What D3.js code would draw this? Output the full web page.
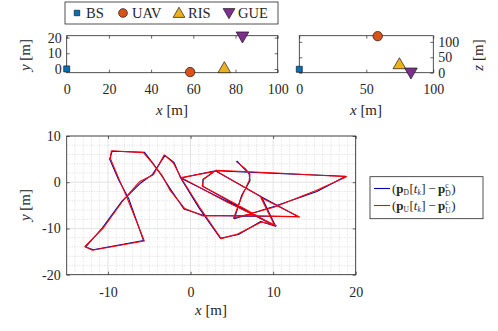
<!DOCTYPE html>
<html>
<head>
<meta charset="utf-8">
<script src="https://cdn.jsdelivr.net/npm/d3@7"></script>
<style>
  body { margin: 0; background: #fff; }
  text { font-family: "Liberation Serif", "DejaVu Serif", serif; fill: #262626; }
</style>
</head>
<body>
<div id="chart"></div>
<script>
// ---------- data ----------
// node positions (top panels)
const nodeNames = ['BS', 'UAV', 'RIS', 'GUE'];
const nodeX = [0, 58.5, 74.7, 83.3];
const nodeY = [0, -2.0, 0.6, 20.6];
const nodeZ = [11, 118.5, 28, 0];
const nodeColors = ['#0072BD', '#D95319', '#EDB120', '#7E2F8E'];
const nodeShapes = ['square', 'circle', 'triangle', 'invTriangle'];

// tick labels
const topXTicksL = [0, 20, 40, 60, 80, 100];
const topYTicksL = [0, 10, 20];
const topXTicksR = [0, 50, 100];
const topZTicksR = [0, 50, 100];
const mainXTicks = [-10, 0, 10, 20];
const mainYTicks = [-20, -10, 0, 10];

// trajectory of p_D[t_k] - p_D^c (blue)
const trajXD = [5.6, 6.5, 7.1, 7.2, 6.2, 5.3, 10.0, 15.3, 18.8, 10.5, 3.0, 1.5, 1.5, 6.0, 10.3, 8.6, 13.0, 6.0, 1.6, -0.8, -2.4, -3.6, -4.6, -5.6, -9.5, -9.8, -8.7, -7.5, -5.7, -11.8, -12.7, -10.7, -8.3, -6.0, -4.6, -3.1, -2.0, -1.2, 1.0, 3.6, 5.8, 8.5, 10.3, 4.5, -1.2, 3.0, 8.6];
const trajYD = [4.6, 2.9, 1.8, 0.3, -2.8, -7.9, -5.3, -2.0, 1.3, 1.9, 2.5, 0.6, -0.9, -5.4, -9.5, -3.2, -7.4, -7.3, -7.2, -5.8, -1.6, 1.7, 4.2, 6.5, 6.7, 5.0, 0.5, -3.5, -12.6, -14.6, -14.0, -9.9, -4.1, -0.1, 1.7, 5.8, 4.3, 0.9, -5.5, -12.1, -11.3, -8.5, -9.5, -4.2, 0.9, 2.5, -3.2];
// trajectory of p_U[t_k] - p_U^c (red)
const trajXU = [5.5, 6.6, 7.2, 7.1, 6.3, 5.2, 10.1, 15.2, 18.9, 10.4, 3.1, 1.6, 1.4, 6.1, 10.2, 8.5, 13.2, 6.1, 1.5, -0.7, -2.5, -3.5, -4.7, -5.7, -9.6, -9.7, -8.6, -7.7, -5.6, -11.9, -12.8, -10.6, -8.2, -6.2, -4.5, -3.2, -2.1, -1.1, 1.1, 3.7, 5.7, 8.6, 10.4, 4.4, -1.1, 3.1, 8.5];
const trajYU = [4.5, 3.0, 1.7, 0.4, -2.7, -7.8, -5.4, -1.8, 1.2, 2.0, 2.6, 0.7, -0.8, -5.3, -9.4, -3.3, -7.5, -7.2, -7.3, -5.7, -1.7, 1.6, 4.3, 6.4, 6.8, 5.1, 0.4, -3.3, -12.7, -14.7, -13.9, -10.0, -4.0, 0.1, 1.6, 5.9, 4.2, 0.8, -5.4, -12.2, -11.2, -8.6, -9.4, -4.3, 1.0, 2.4, -3.1];

// ---------- canvas ----------
const W = 498, H = 331;
const FONT = '"Liberation Serif", "DejaVu Serif", serif';
const svg = d3.select('#chart').append('svg')
  .attr('width', W).attr('height', H)
  .attr('font-family', FONT);

const AXC = '#262626';

// draws boxed axes with inside ticks on all sides
const drawBox = (g, x, y, xt, yt, opts) => {
  const [x0, x1] = x.range();
  const [y0, y1] = y.range(); // y0 = bottom
  const fs = opts.fs || 14;
  const tl = opts.tick || 3;
  // bottom ticks + labels
  g.append('g').attr('transform', `translate(0,${y0})`)
    .call(d3.axisBottom(x).tickValues(xt).tickSize(-tl).tickPadding(opts.xpad).tickFormat(d => String(d)))
    .call(a => a.select('.domain').remove());
  // top ticks
  g.append('g').attr('transform', `translate(0,${y1})`)
    .call(d3.axisTop(x).tickValues(xt).tickSize(-tl).tickFormat(''))
    .call(a => a.select('.domain').remove());
  // left / right ticks
  const yLeft = d3.axisLeft(y).tickValues(yt).tickSize(-tl).tickPadding(opts.ypad).tickFormat(d => String(d));
  const yRight = d3.axisRight(y).tickValues(yt).tickSize(-tl).tickPadding(opts.ypad).tickFormat(d => String(d));
  g.append('g').attr('transform', `translate(${x0},0)`)
    .call(opts.yRightLabels ? yLeft.tickFormat('') : yLeft)
    .call(a => a.select('.domain').remove());
  g.append('g').attr('transform', `translate(${x1},0)`)
    .call(opts.yRightLabels ? yRight : yRight.tickFormat(''))
    .call(a => a.select('.domain').remove());
  g.selectAll('g').attr('font-family', FONT);
  g.selectAll('.tick line').attr('stroke', AXC).attr('stroke-width', 0.7);
  g.selectAll('.tick text').attr('font-size', fs).attr('fill', AXC).attr('font-family', FONT);
  g.append('rect').attr('x', x0).attr('y', y1).attr('width', x1 - x0).attr('height', y0 - y1)
    .attr('fill', 'none').attr('stroke', AXC).attr('stroke-width', 0.8);
};

// axis label "v [m]" with italic variable
const axisLabel = (g, x, y, v, rot) => {
  const t = g.append('text').attr('text-anchor', 'middle').attr('font-size', 15)
    .attr('font-family', FONT)
    .attr('transform', `translate(${x},${y}) rotate(${rot || 0})`);
  t.append('tspan').attr('font-style', 'italic').text(v);
  t.append('tspan').text(' [m]');
};

// marker symbols
const symbolFor = (shape, size) => {
  const m = {square: d3.symbolSquare, circle: d3.symbolCircle, triangle: d3.symbolTriangle, invTriangle: d3.symbolTriangle};
  return d3.symbol().type(m[shape]).size(size)();
};
const drawMarker = (g, shape, cx, cy, size, color) => {
  g.append('path')
    .attr('d', symbolFor(shape, size))
    .attr('transform', `translate(${cx},${cy})` + (shape === 'invTriangle' ? ' rotate(180)' : '') + (shape.indexOf('riangle') >= 0 ? ' translate(0,1)' : ''))
    .attr('fill', color).attr('stroke', '#1a1a1a').attr('stroke-width', 0.7);
};

// ---------- top-left panel: x-y ----------
const xTL = d3.scaleLinear().domain([0, 100]).range([66.7, 277.7]);
const yTL = d3.scaleLinear().domain([-2.4, 21.2]).range([72.7, 35.7]);
const gTL = svg.append('g');
drawBox(gTL, xTL, yTL, topXTicksL, topYTicksL, {xpad: 11, ypad: 5});
nodeNames.forEach((n, i) => drawMarker(gTL, nodeShapes[i], xTL(nodeX[i]), yTL(nodeY[i]), nodeShapes[i] === 'square' ? 36 : 70, nodeColors[i]));
axisLabel(svg, 172, 115, 'x');
axisLabel(svg, 30, 55, 'y', -90);

// ---------- top-right panel: x-z ----------
const xTR = d3.scaleLinear().domain([0, 100]).range([299.3, 433.3]);
const zTR = d3.scaleLinear().domain([0, 120]).range([72.7, 35.7]);
const gTR = svg.append('g');
drawBox(gTR, xTR, zTR, topXTicksR, topZTicksR, {xpad: 11, ypad: 5, yRightLabels: true});
nodeNames.forEach((n, i) => drawMarker(gTR, nodeShapes[i], xTR(nodeX[i]), zTR(nodeZ[i]), nodeShapes[i] === 'square' ? 36 : 70, nodeColors[i]));
axisLabel(svg, 366, 115, 'x');
axisLabel(svg, 483, 55, 'z', -90);

// ---------- top legend ----------
const lg = svg.append('g');
lg.append('rect').attr('x', 65).attr('y', 2).attr('width', 213).attr('height', 22)
  .attr('fill', '#fff').attr('stroke', AXC).attr('stroke-width', 0.8);
const legX = [77, 123, 179, 229];
nodeNames.forEach((n, i) => {
  drawMarker(lg, nodeShapes[i], legX[i], 13, nodeShapes[i] === 'square' ? 30 : 60, nodeColors[i]);
  lg.append('text').attr('x', legX[i] + 9).attr('y', 18).attr('font-size', 14.5)
    .attr('font-family', FONT).text(n);
});

// ---------- main panel: trajectories ----------
const xM = d3.scaleLinear().domain([-15, 20]).range([66.7, 355.7]);
const yM = d3.scaleLinear().domain([-20, 10]).range([274.7, 136]);
const gM = svg.append('g');
// minor grid
const minorX = d3.range(-15, 20.01, 1).filter(v => v % 10 !== 0);
const minorY = d3.range(-20, 10.01, 2).filter(v => v % 10 !== 0);
gM.append('g').selectAll('line').data(minorX).join('line')
  .attr('x1', d => xM(d)).attr('x2', d => xM(d)).attr('y1', yM(-20)).attr('y2', yM(10))
  .attr('stroke', '#c8c8c8').attr('stroke-width', 0.6).attr('stroke-dasharray', '1,1.5');
gM.append('g').selectAll('line').data(minorY).join('line')
  .attr('y1', d => yM(d)).attr('y2', d => yM(d)).attr('x1', xM(-15)).attr('x2', xM(20))
  .attr('stroke', '#c8c8c8').attr('stroke-width', 0.6).attr('stroke-dasharray', '1,1.5');
// major grid
gM.append('g').selectAll('line').data(mainXTicks).join('line')
  .attr('x1', d => xM(d)).attr('x2', d => xM(d)).attr('y1', yM(-20)).attr('y2', yM(10))
  .attr('stroke', '#e3e3e3').attr('stroke-width', 1);
gM.append('g').selectAll('line').data(mainYTicks).join('line')
  .attr('y1', d => yM(d)).attr('y2', d => yM(d)).attr('x1', xM(-15)).attr('x2', xM(20))
  .attr('stroke', '#e3e3e3').attr('stroke-width', 1);

const line = d3.line().x(d => xM(d[0])).y(d => yM(d[1]));
gM.append('path').attr('d', line(d3.zip(trajXD, trajYD)))
  .attr('fill', 'none').attr('stroke', '#0000a8').attr('stroke-width', 1.1).attr('stroke-linejoin', 'round');
gM.append('path').attr('d', line(d3.zip(trajXU, trajYU)))
  .attr('fill', 'none').attr('stroke', '#ff0000').attr('stroke-width', 1.1).attr('stroke-linejoin', 'round');

drawBox(gM, xM, yM, mainXTicks, mainYTicks, {xpad: 12, ypad: 6});
axisLabel(svg, 211, 315, 'x');
axisLabel(svg, 30, 205, 'y', -90);

// ---------- main legend ----------
const ml = svg.append('g');
ml.append('rect').attr('x', 370).attr('y', 176.7).attr('width', 113).attr('height', 42)
  .attr('fill', '#fff').attr('stroke', AXC).attr('stroke-width', 0.8);
const legendEntries = [['D', '#0000a8', 188.5], ['U', '#ff0000', 205.5]];
// write a math-like label piece by piece
const mathLabel = (g, x0, base, s) => {
  const fs = 13, small = 7.5;
  let x = x0;
  const put = (txt, o) => {
    const t = g.append('text').attr('x', x).attr('y', base + (o.dy || 0))
      .attr('font-size', o.small ? small : fs).attr('font-family', FONT)
      .attr('font-weight', o.bold ? 'bold' : null)
      .attr('font-style', o.italic ? 'italic' : null)
      .text(txt);
    return t.node().getComputedTextLength();
  };
  x += put('(', {});
  x += put('p', {bold: true});
  x += put(s, {small: true, dy: 2.5}) + 0.5;
  x += put('[', {});
  x += put('t', {italic: true});
  x += put('k', {italic: true, small: true, dy: 2.5}) + 0.5;
  x += put(']', {}) + 2.5;
  x += put('\u2212', {}) + 2.5;
  x += put('p', {bold: true});
  const w1 = put('c', {small: true, dy: -5});
  const w2 = put(s, {small: true, dy: 3});
  x += Math.max(w1, w2) + 0.5;
  put(')', {});
};
legendEntries.forEach(([s, c, ly]) => {
  ml.append('line').attr('x1', 374).attr('x2', 390).attr('y1', ly).attr('y2', ly)
    .attr('stroke', c).attr('stroke-width', 1.1);
  mathLabel(ml, 392, ly + 4, s);
});
</script>
</body>
</html>
